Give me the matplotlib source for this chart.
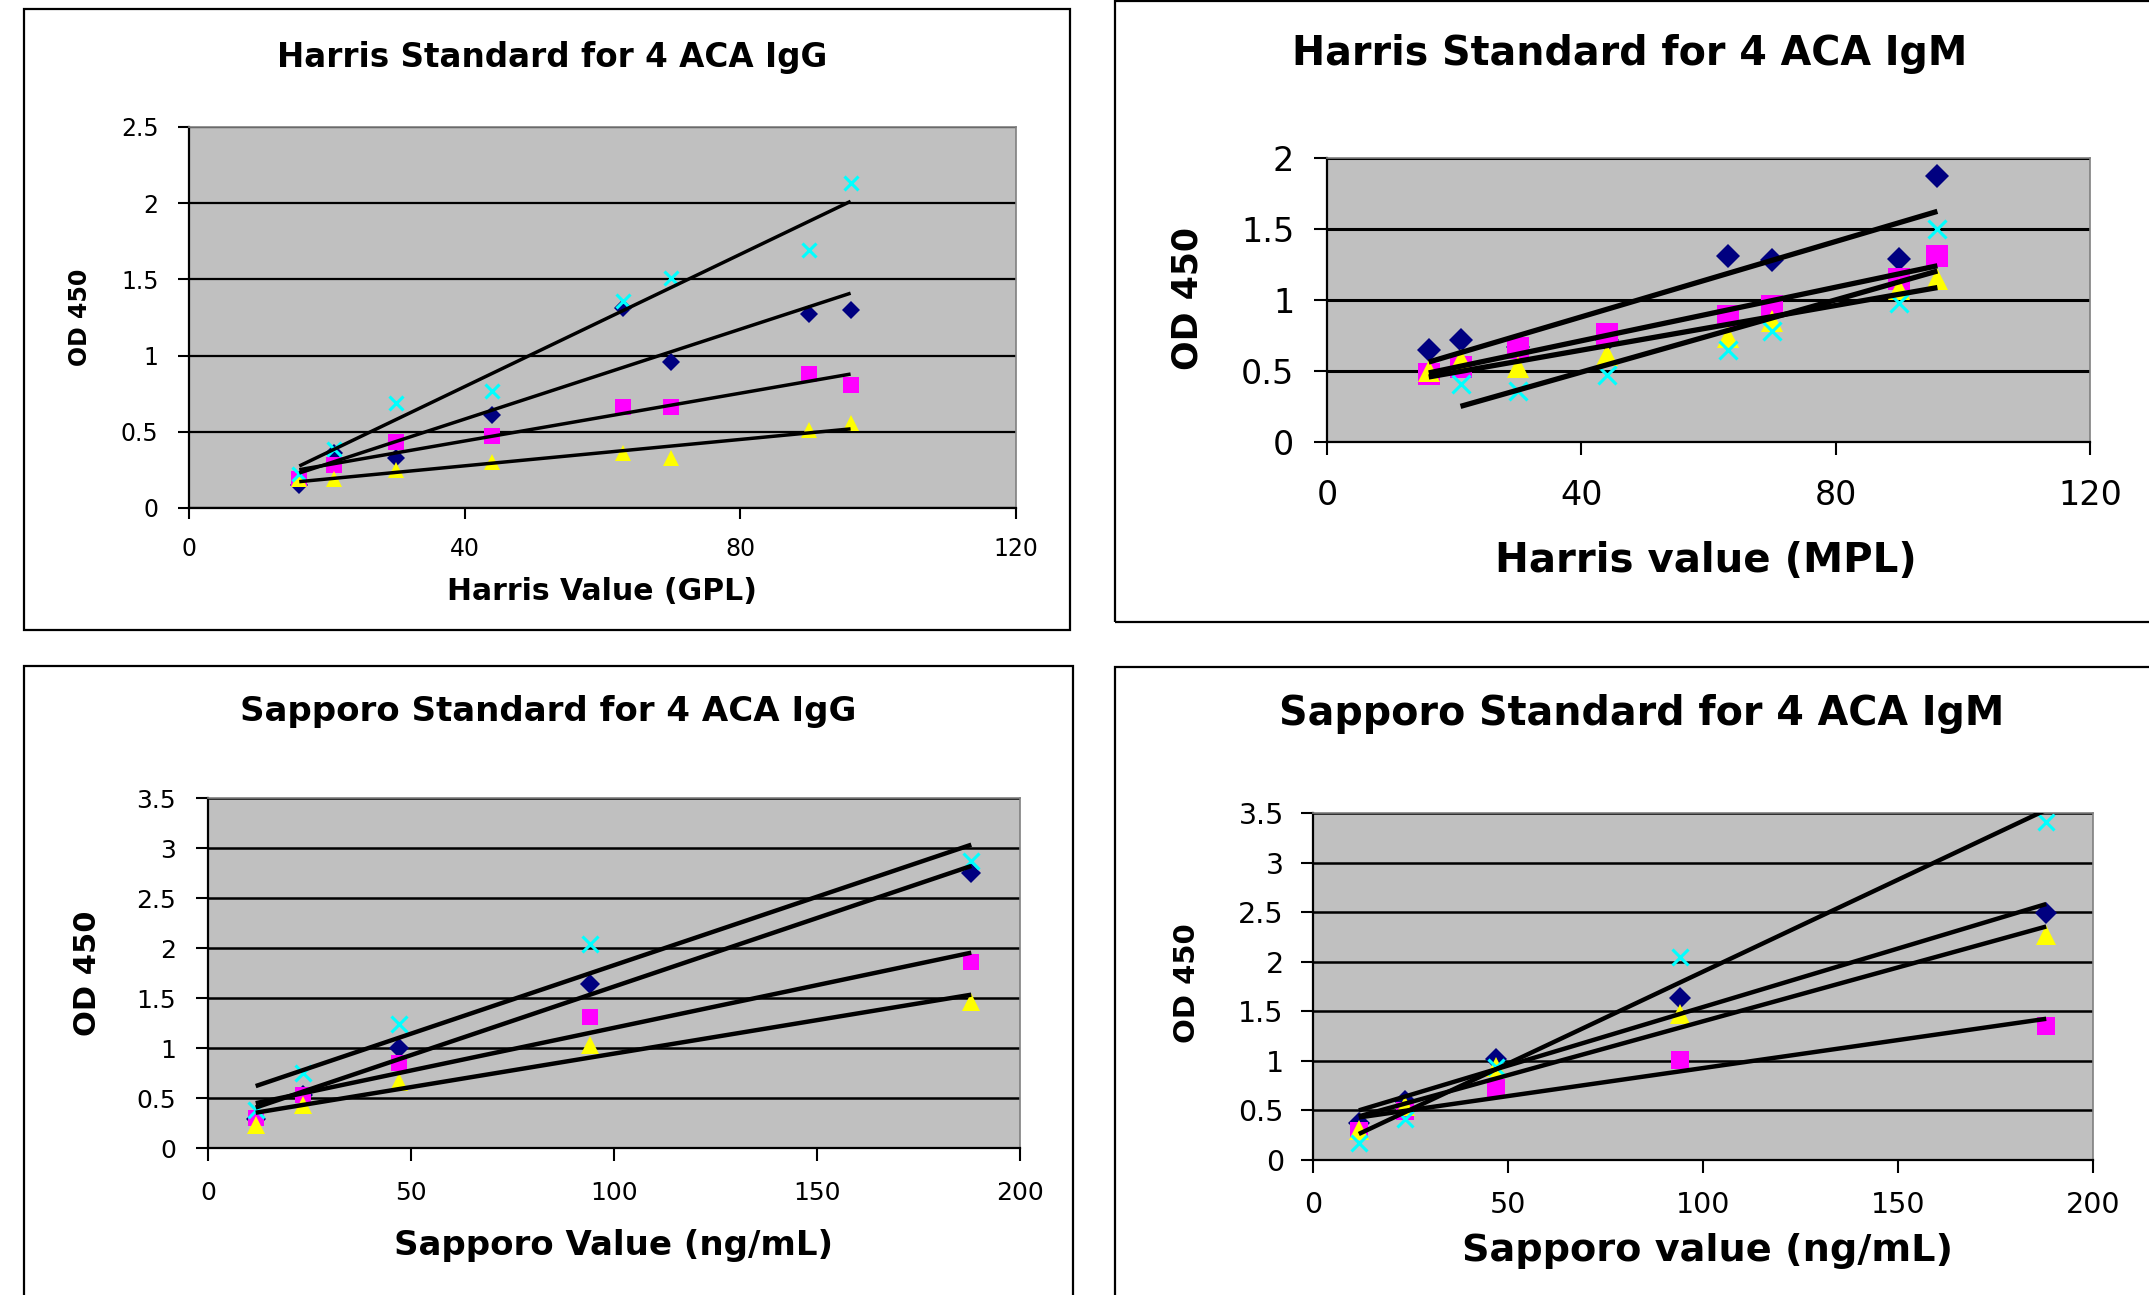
import numpy as np
import matplotlib
matplotlib.use("Agg")
import matplotlib.pyplot as plt
from matplotlib.patches import Rectangle
from matplotlib.ticker import FuncFormatter, MultipleLocator

plt.rcParams['font.family'] = ['DejaVu Sans']

# ---------------- data ----------------
harris_x = [16, 21, 30, 44, 63, 70, 90, 96]

harris_igg_navy = [0.15, 0.36, 0.33, 0.61, 1.31, 0.96, 1.27, 1.30]
harris_igg_magenta = [0.19, 0.28, 0.43, 0.47, 0.66, 0.66, 0.88, 0.81]
harris_igg_yellow = [0.19, 0.19, 0.25, 0.30, 0.36, 0.33, 0.51, 0.56]
harris_igg_cyan = [0.22, 0.39, 0.69, 0.77, 1.36, 1.51, 1.69, 2.13]

harris_igm_navy = [0.65, 0.72, 0.67, 0.72, 1.31, 1.28, 1.29, 1.87]
harris_igm_magenta = [0.48, 0.53, 0.66, 0.76, 0.89, 0.96, 1.15, 1.31]
harris_igm_yellow = [0.50, 0.58, 0.53, 0.61, 0.74, 0.85, 1.08, 1.15]
harris_igm_cyan = [np.nan, 0.41, 0.36, 0.47, 0.65, 0.78, 0.98, 1.50]

sapporo_x = [11.75, 23.5, 47, 94, 188]

sapporo_igg_navy = [0.29, 0.53, 1.00, 1.64, 2.75]
sapporo_igg_magenta = [0.30, 0.53, 0.85, 1.31, 1.86]
sapporo_igg_yellow = [0.23, 0.43, 0.66, 1.03, 1.46]
sapporo_igg_cyan = [0.38, 0.75, 1.24, 2.04, 2.87]

sapporo_igm_navy = [0.37, 0.60, 1.02, 1.63, 2.49]
sapporo_igm_magenta = [0.29, 0.49, 0.73, 1.01, 1.35]
sapporo_igm_yellow = [0.30, 0.54, 0.94, 1.47, 2.27]
sapporo_igm_cyan = [0.17, 0.41, 0.94, 2.05, 3.41]

titles = ["Harris Standard for 4 ACA IgG", "Harris Standard for 4 ACA IgM",
          "Sapporo Standard for 4 ACA IgG", "Sapporo Standard for 4 ACA IgM"]
xlabels = ["Harris Value (GPL)", "Harris value (MPL)",
           "Sapporo Value (ng/mL)", "Sapporo value (ng/mL)"]
ylabel = "OD 450"

# ---------------- styles ----------------
series_style = [
    dict(marker='D', color='#000080'),
    dict(marker='s', color='#FF00FF'),
    dict(marker='^', color='#FFFF00'),
    dict(marker='x', color='#00FFFF'),
]

W, H = 2149, 1295
fig = plt.figure(figsize=(W / 100, H / 100), dpi=100)


def fx(x):
    return x / W


def fy(y):
    return 1 - y / H


panels = [
    dict(frame=(24, 9, 1070, 630), plot=(189, 127, 1016, 508),
         title_xy=(552, 67), title_fs=23.5, xlabel_xy=(602, 600), xlabel_fs=21.5,
         ylabel_xy=(80, 317), ylabel_fs=17, tick_fs=17, ticklen=8, ypad=14, xpad=13,
         xmax=120, xstep=40, ymax=2.5, ms=(9.5, 11, 12, 10), lw=2.5, gridlw=1.6,
         x=harris_x, ys=[harris_igg_navy, harris_igg_magenta, harris_igg_yellow, harris_igg_cyan]),
    dict(frame=(1115, 1, 2170, 622), plot=(1327, 158, 2090, 442),
         title_xy=(1630, 65), title_fs=28.5, xlabel_xy=(1706, 572), xlabel_fs=29,
         ylabel_xy=(1187, 298), ylabel_fs=25, tick_fs=24, ticklen=9.5, ypad=14, xpad=17,
         xmax=120, xstep=40, ymax=2.0, ms=(12.5, 15.5, 16, 13), lw=3.8, gridlw=2.2,
         x=harris_x, ys=[harris_igm_navy, harris_igm_magenta, harris_igm_yellow, harris_igm_cyan]),
    dict(frame=(24, 666, 1073, 1310), plot=(208, 798, 1020, 1148),
         title_xy=(548, 721), title_fs=24.5, xlabel_xy=(614, 1255), xlabel_fs=24.5,
         ylabel_xy=(87, 973), ylabel_fs=22, tick_fs=18, ticklen=9, ypad=14, xpad=15,
         xmax=200, xstep=50, ymax=3.5, ms=(10, 12, 13, 11), lw=3.2, gridlw=1.8,
         x=sapporo_x, ys=[sapporo_igg_navy, sapporo_igg_magenta, sapporo_igg_yellow, sapporo_igg_cyan]),
    dict(frame=(1115, 667, 2170, 1310), plot=(1313, 813, 2093, 1160),
         title_xy=(1642, 725), title_fs=28.5, xlabel_xy=(1708, 1261), xlabel_fs=27.5,
         ylabel_xy=(1187, 983), ylabel_fs=21, tick_fs=20.5, ticklen=9, ypad=12, xpad=13,
         xmax=200, xstep=50, ymax=3.5, ms=(11.5, 13, 14, 12), lw=3.2, gridlw=1.8,
         x=sapporo_x, ys=[sapporo_igm_navy, sapporo_igm_magenta, sapporo_igm_yellow, sapporo_igm_cyan]),
]

fmt = FuncFormatter(lambda v, p: f"{v:g}")

for i, p in enumerate(panels):
    # outer frame of each chart object
    x0, y0, x1, y1 = p['frame']
    fig.patches.append(Rectangle((fx(x0), fy(y1)), fx(x1 - x0), (y1 - y0) / H,
                                 transform=fig.transFigure, fill=False,
                                 edgecolor='black', linewidth=1.6, zorder=0))
    px0, py0, px1, py1 = p['plot']
    ax = fig.add_axes([fx(px0), fy(py1), fx(px1 - px0), (py1 - py0) / H])
    ax.set_facecolor('#C0C0C0')
    ax.set_xlim(0, p['xmax'])
    ax.set_ylim(0, p['ymax'])
    ax.xaxis.set_major_locator(MultipleLocator(p['xstep']))
    ax.yaxis.set_major_locator(MultipleLocator(0.5))
    ax.xaxis.set_major_formatter(fmt)
    ax.yaxis.set_major_formatter(fmt)
    ax.set_axisbelow(True)
    ax.yaxis.grid(True, color='black', linewidth=p['gridlw'])
    ax.xaxis.grid(False)
    for s in ('left', 'bottom'):
        ax.spines[s].set_color('black')
        ax.spines[s].set_linewidth(1.6)
    for s in ('top', 'right'):
        ax.spines[s].set_color('#808080')
        ax.spines[s].set_linewidth(1.2)
    ax.tick_params(axis='both', direction='out', length=p['ticklen'], width=1.5,
                   colors='black', labelsize=p['tick_fs'])
    ax.tick_params(axis='y', pad=p['ypad'])
    ax.tick_params(axis='x', pad=p['xpad'])

    xs = np.array(p['x'], dtype=float)
    for k, (yv, st) in enumerate(zip(p['ys'], series_style)):
        yv = np.array(yv, dtype=float)
        ms = p['ms'][k]
        if st['marker'] == 'x':
            ax.plot(xs, yv, linestyle='none', marker='x', color=st['color'],
                    markersize=ms, markeredgewidth=2.2, zorder=2, clip_on=False)
        else:
            ax.plot(xs, yv, linestyle='none', marker=st['marker'], color=st['color'],
                    markersize=ms, markeredgewidth=0, zorder=2, clip_on=False)
    # linear trend lines (drawn on top, as in the original)
    for yv in p['ys']:
        yv = np.array(yv, dtype=float)
        m = np.isfinite(yv)
        slope, icpt = np.polyfit(xs[m], yv[m], 1)
        xe = np.array([xs[m].min(), xs[m].max()])
        ax.plot(xe, slope * xe + icpt, color='black', linewidth=p['lw'],
                solid_capstyle='butt', zorder=3)

    fig.text(fx(p['title_xy'][0]), fy(p['title_xy'][1]), titles[i],
             ha='center', va='baseline', fontsize=p['title_fs'], fontweight='bold')
    fig.text(fx(p['xlabel_xy'][0]), fy(p['xlabel_xy'][1]), xlabels[i],
             ha='center', va='baseline', fontsize=p['xlabel_fs'], fontweight='bold')
    fig.text(fx(p['ylabel_xy'][0]), fy(p['ylabel_xy'][1]), ylabel, rotation=90,
             ha='center', va='center', fontsize=p['ylabel_fs'], fontweight='bold')

fig.savefig('out.png', dpi=100, facecolor='white')
